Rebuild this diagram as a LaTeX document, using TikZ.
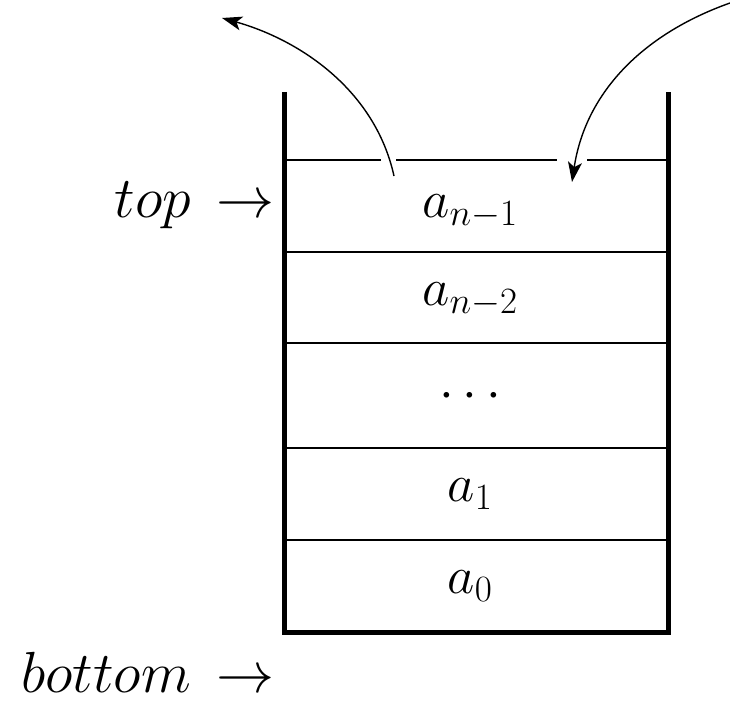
\documentclass[tikz,border=0pt]{standalone}
\usepackage{fix-cm}
\usetikzlibrary{arrows.meta}
\begin{document}
\begin{tikzpicture}[x=1pt,y=-1pt,
  wall/.style={line width=5pt},
  sep/.style={line width=1.6pt},
  curve/.style={line width=1.4pt,-{Stealth[length=20pt,width=14pt,inset=5pt]}},
  cell/.style={inner sep=0pt,font=\fontsize{53}{56}\selectfont},
  lab/.style={inner sep=0pt,font=\fontsize{58}{62}\selectfont}]
\useasboundingbox (0,0) rectangle (730,703);
% walls
\coordinate (tl) at (284,92);
\coordinate (tr) at (668,92);
\coordinate (bl) at (284,632);
\coordinate (br) at (668,632);
\draw[wall,line join=miter] (tl) -- (bl) -- (br) -- (tr);
% separators
\draw[sep] (284,160) -- (381,160);
\draw[sep] (396,160) -- (557,160);
\draw[sep] (587,160) -- (668,160);
\foreach \y in {252,343,448,540} \draw[sep] (284,\y) -- (668,\y);
% cells
\node[cell] (c1) at (470,212) {$a_{n-1}$};
\node[cell] (c2) at (470,300) {$a_{n-2}$};
\node[cell] (c3) at (470,397) {$\cdots$};
\node[cell] (c4) at (470,494) {$a_1$};
\node[cell] (c5) at (470,586) {$a_0$};
% labels
\node[lab,anchor=east] (top) at (275,205) {$top\,\rightarrow$};
\node[lab,anchor=east] (bot) at (275,672) {$bottom\,\rightarrow$};
% curved arrows
\coordinate (popS) at (394,176);
\coordinate (popE) at (222,18);
\coordinate (pushS) at (730,3);
\coordinate (pushE) at (572,182);
\draw[curve] (popS) .. controls (375,90) and (300,40) .. (popE);
\draw[curve] (pushS) .. controls (640,35) and (585,95) .. (pushE);
\end{tikzpicture}
\end{document}
